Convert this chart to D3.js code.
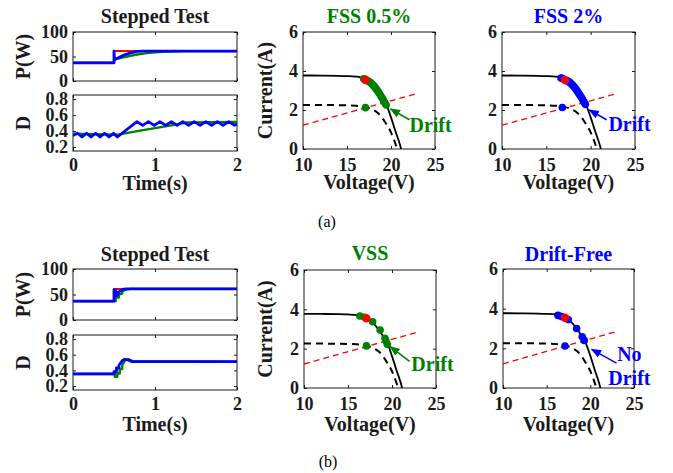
<!DOCTYPE html>
<html>
<head>
<meta charset="utf-8">
<script src="https://cdn.jsdelivr.net/npm/d3@7"></script>
<style>
  html, body { margin: 0; padding: 0; background: #fff; }
  svg { display: block; }
  text { font-family: "Liberation Serif", "Times New Roman", serif; }
</style>
</head>
<body>
<script>
// ---- tick values ----
const timeTicks = [0, 1, 2];
const powerTicks = [0, 50, 100];
const dutyTicks = [0.2, 0.4, 0.6, 0.8];
const voltageTicks = [10, 15, 20, 25];
const currentTicks = [0, 2, 4, 6];

// ---- (a) stepped test, fixed step size: [time s, value] ----
const fssPowerRed = [[0, 37], [0.5, 37], [0.5, 61], [2, 61]];
const fssPowerGreen = [[0, 37], [0.5, 37], [0.5, 43], [0.55, 46], [0.6, 48], [0.7, 51.5], [0.8, 54.5],
  [0.9, 56.8], [1.0, 58.4], [1.1, 59.5], [1.2, 60.3], [1.35, 61], [2, 61]];
const fssPowerBlue = [[0, 37], [0.5, 37], [0.5, 61], [0.505, 43.5], [0.56, 48], [0.62, 53], [0.7, 57.5],
  [0.78, 60.5], [0.85, 61], [2, 61]];
const fssDutyGreen = [[0, 0.366], [0.55, 0.354], [0.8, 0.401], [1.0, 0.436], [1.2, 0.471], [1.38, 0.506], [2, 0.512]];
const fssDutyBlue = [[0, 0.343], [0.055, 0.372], [0.11, 0.325], [0.165, 0.372], [0.22, 0.325], [0.275, 0.372],
  [0.33, 0.325], [0.385, 0.372], [0.44, 0.325], [0.495, 0.372], [0.54, 0.325], [0.78, 0.517], [0.85, 0.471],
  [0.92, 0.517], [0.99, 0.471], [1.06, 0.517], [1.13, 0.471], [1.2, 0.517], [1.27, 0.471], [1.34, 0.517],
  [1.41, 0.471], [1.48, 0.517], [1.55, 0.471], [1.62, 0.517], [1.69, 0.471], [1.76, 0.517], [1.83, 0.471],
  [1.9, 0.517], [1.97, 0.471], [2, 0.488]];

// ---- (b) stepped test, variable / drift-free step size ----
const vssPowerRed = [[0, 37], [0.5, 37], [0.5, 61], [2, 61]];
const vssPowerGreen = [[0, 37], [0.52, 37], [0.52, 44], [0.56, 44], [0.56, 50], [0.6, 52], [0.6, 56],
  [0.65, 60], [0.7, 61], [2, 61]];
const vssPowerBlue = [[0, 37], [0.5, 37], [0.5, 59], [0.52, 59], [0.52, 46], [0.55, 50], [0.55, 55],
  [0.58, 57], [0.6, 60], [0.65, 61], [2, 61]];
const vssDutyGreen = [[0, 0.354], [0.51, 0.354], [0.51, 0.319], [0.54, 0.319], [0.54, 0.36], [0.57, 0.36],
  [0.57, 0.418], [0.6, 0.418], [0.6, 0.465], [0.64, 0.535], [0.68, 0.541], [0.73, 0.517], [2, 0.511]];
const vssDutyBlue = [[0, 0.354], [0.5, 0.354], [0.5, 0.383], [0.53, 0.383], [0.53, 0.43], [0.56, 0.43],
  [0.56, 0.465], [0.6, 0.523], [0.63, 0.541], [0.68, 0.529], [0.72, 0.511], [2, 0.511]];

// ---- I-V characteristics: [voltage V, current A] ----
const ivHigh = [[10, 3.77], [12, 3.765], [14, 3.755], [15, 3.74], [16, 3.71], [16.5, 3.67], [17, 3.58],
  [17.5, 3.45], [18, 3.24], [18.5, 2.96], [19, 2.62], [19.5, 2.24], [20, 1.62], [20.5, 0.92], [21, 0.25], [21.15, 0]];
const ivLow = [[10, 2.26], [14, 2.25], [16, 2.22], [17, 2.16], [17.5, 2.1], [18, 2.0], [18.5, 1.85],
  [19, 1.6], [19.5, 1.25], [20, 0.85], [20.4, 0.4], [20.7, 0]];
const loadLine = [[10, 1.22], [23, 2.85]];
const mppPoint = [[17.1, 3.54]];

const fss05Dots = [[16.9, 3.6], [17.05, 3.57], [17.2, 3.54], [17.35, 3.5], [17.5, 3.46], [17.65, 3.41],
  [17.8, 3.35], [17.95, 3.28], [18.1, 3.21], [18.25, 3.12], [18.4, 3.03], [18.55, 2.93], [18.7, 2.83],
  [18.85, 2.72], [19.0, 2.61], [19.15, 2.49], [19.3, 2.37], [19.45, 2.26], [17.1, 2.12]];
const fss2Dots = [[16.65, 3.64], [16.8, 3.62], [17.3, 3.51], [17.45, 3.47], [17.6, 3.43], [17.75, 3.37],
  [17.9, 3.31], [18.05, 3.23], [18.2, 3.15], [18.35, 3.06], [18.5, 2.96], [18.65, 2.86], [18.8, 2.76],
  [18.95, 2.65], [19.1, 2.53], [19.25, 2.41], [19.4, 2.29], [16.8, 2.13]];
const vssDots = [[16.35, 3.66], [16.9, 3.6], [17.8, 3.37], [18.65, 2.95], [19.2, 2.53], [19.3, 2.4],
  [19.46, 2.22], [17.1, 2.14]];
const driftFreeDots = [[16.3, 3.66], [16.7, 3.6], [17.47, 3.45], [18.43, 3.0], [19.07, 2.58], [19.3, 2.4],
  [17.1, 2.12]];

// ---- colours and fonts ----
const RED = "#ff0000", GREEN = "#008000", BLUE = "#0000ff", INK = "#1a1a1a";
const TITLE_FS = 20, LABEL_FS = 20, TICK_FS = 18;

const svg = d3.select("body").append("svg").attr("width", 673).attr("height", 473);

// Axes frame with inward ticks on all four sides (MATLAB "box on" look)
function frame(box, xDom, yDom, xTicks, yTicks, showX, yFmt, xPad) {
  const x = d3.scaleLinear().domain(xDom).range([box.x0, box.x1]);
  const y = d3.scaleLinear().domain(yDom).range([box.y1, box.y0]);
  const g = svg.append("g");
  const axes = [
    [d3.axisBottom(x).tickValues(xTicks).tickFormat(showX ? d3.format("d") : () => ""), `translate(0,${box.y1})`, xPad],
    [d3.axisTop(x).tickValues(xTicks).tickFormat(() => ""), `translate(0,${box.y0})`, 5],
    [d3.axisLeft(y).tickValues(yTicks).tickFormat(yFmt), `translate(${box.x0},0)`, 5],
    [d3.axisRight(y).tickValues(yTicks).tickFormat(() => ""), `translate(${box.x1},0)`, 5]
  ];
  axes.forEach(([ax, tr, pad]) => {
    const a = g.append("g").attr("transform", tr)
      .call(ax.tickSizeInner(-3).tickSizeOuter(0).tickPadding(pad));
    a.select(".domain").remove();
    a.selectAll("line").attr("stroke", INK).attr("stroke-width", 1);
    a.selectAll("text").attr("fill", INK).attr("font-size", TICK_FS).attr("font-weight", "bold")
      .style("font-family", '"Liberation Serif", "Times New Roman", serif');
  });
  g.append("rect").attr("x", box.x0).attr("y", box.y0)
    .attr("width", box.x1 - box.x0).attr("height", box.y1 - box.y0)
    .attr("fill", "none").attr("stroke", INK).attr("stroke-width", 1);
  return { x, y, g };
}

function addText(x, y, str, opts = {}) {
  const t = svg.append("text").attr("x", x).attr("y", y).text(str)
    .attr("font-size", opts.size || LABEL_FS)
    .attr("font-weight", opts.weight || "bold")
    .attr("fill", opts.color || INK)
    .attr("text-anchor", opts.anchor || "middle");
  if (opts.rotate) t.attr("transform", `rotate(-90,${x},${y})`);
  return t;
}

function drawLine(ax, data, color, width, dash, curve) {
  const clipId = "c" + Math.random().toString(36).slice(2);
  const r = ax.x.range(), d = ax.y.range();
  svg.append("clipPath").attr("id", clipId).append("rect")
    .attr("x", r[0]).attr("y", d[1]).attr("width", r[1] - r[0]).attr("height", d[0] - d[1]);
  const line = d3.line().x(p => ax.x(p[0])).y(p => ax.y(p[1])).curve(curve || d3.curveLinear);
  svg.append("path").datum(data).attr("d", line).attr("fill", "none")
    .attr("stroke", color).attr("stroke-width", width)
    .attr("stroke-dasharray", dash || null)
    .attr("stroke-linejoin", "round")
    .attr("clip-path", `url(#${clipId})`);
}

function drawDots(ax, data, color, r) {
  svg.append("g").selectAll("circle").data(data).join("circle")
    .attr("cx", p => ax.x(p[0])).attr("cy", p => ax.y(p[1])).attr("r", r).attr("fill", color);
}

// arrowhead markers
const defs = svg.append("defs");
[["ah-green", GREEN], ["ah-blue", BLUE]].forEach(([id, c]) => {
  defs.append("marker").attr("id", id).attr("viewBox", "0 0 10 10").attr("refX", 9).attr("refY", 5)
    .attr("markerWidth", 7).attr("markerHeight", 7).attr("orient", "auto-start-reverse")
    .append("path").attr("d", "M0,1 L10,5 L0,9 Z").attr("fill", c);
});

function arrow(ax, from, to, color, id) {
  svg.append("line")
    .attr("x1", ax.x(from[0])).attr("y1", ax.y(from[1]))
    .attr("x2", ax.x(to[0])).attr("y2", ax.y(to[1]))
    .attr("stroke", color).attr("stroke-width", 1.5)
    .attr("marker-end", `url(#${id})`);
}

// Time-domain pair (power on top, duty cycle below)
function steppedTest(rowTop, boxes, pRed, pGreen, pBlue, dGreen, dBlue, labelBase) {
  addText((boxes.p.x0 + boxes.p.x1) / 2, rowTop, "Stepped Test", { size: TITLE_FS });
  const p = frame(boxes.p, [0, 2], [0, 100], timeTicks, powerTicks, false, d3.format("d"), 5);
  drawLine(p, pRed, RED, 2);
  drawLine(p, pGreen, GREEN, 2.4);
  drawLine(p, pBlue, BLUE, 2.8);
  const d = frame(boxes.d, [0, 2], [0.15, 0.85], timeTicks, dutyTicks, true, d3.format(".1f"), 7);
  drawLine(d, dGreen, GREEN, 2.4);
  drawLine(d, dBlue, BLUE, 2.8);
  addText(30, (boxes.p.y0 + boxes.p.y1) / 2, "P(W)", { rotate: true });
  addText(30, (boxes.d.y0 + boxes.d.y1) / 2, "D", { rotate: true });
  addText((boxes.d.x0 + boxes.d.x1) / 2, labelBase, "Time(s)");
}

// I-V plane with tracked operating points
function ivPanel(box, title, color, dots, showYLabel, titleBase, labelBase) {
  addText((box.x0 + box.x1) / 2, titleBase, title, { size: TITLE_FS, color });
  const ax = frame(box, [10, 25], [0, 6], voltageTicks, currentTicks, true, d3.format("d"), 9);
  drawLine(ax, loadLine, RED, 1.3, "6,4");
  drawLine(ax, ivLow, "#000", 2, "7,5", d3.curveMonotoneX);
  drawLine(ax, ivHigh, "#000", 1.8, null, d3.curveMonotoneX);
  drawDots(ax, dots, color, 3.8);
  drawDots(ax, mppPoint, RED, 4.2);
  if (showYLabel) addText(272, (box.y0 + box.y1) / 2, "Current(A)", { rotate: true });
  addText((box.x0 + box.x1) / 2, labelBase, "Voltage(V)");
  return ax;
}

// ---- row (a) ----
steppedTest(23, { p: { x0: 73, x1: 237, y0: 32, y1: 81 }, d: { x0: 73, x1: 237, y0: 95, y1: 151 } },
  fssPowerRed, fssPowerGreen, fssPowerBlue, fssDutyGreen, fssDutyBlue, 190);

const a1 = ivPanel({ x0: 303, x1: 435, y0: 32, y1: 149 }, "FSS 0.5%", GREEN, fss05Dots, true, 23, 189);
arrow(a1, [22.1, 1.5], [19.95, 2.05], GREEN, "ah-green");
addText(a1.x(22.1), a1.y(0.87), "Drift", { color: GREEN, anchor: "start" });

const a2 = ivPanel({ x0: 502, x1: 635, y0: 32, y1: 149 }, "FSS 2%", BLUE, fss2Dots, false, 23, 189);
arrow(a2, [21.8, 1.5], [19.85, 2.0], BLUE, "ah-blue");
addText(a2.x(22.0), a2.y(0.9), "Drift", { color: BLUE, anchor: "start" });

addText(327, 227, "(a)", { size: 16, weight: "normal", color: "#000" });

// ---- row (b) ----
steppedTest(261, { p: { x0: 73, x1: 237, y0: 269, y1: 320 }, d: { x0: 73, x1: 237, y0: 335, y1: 390 } },
  vssPowerRed, vssPowerGreen, vssPowerBlue, vssDutyGreen, vssDutyBlue, 431);

const b1 = ivPanel({ x0: 304, x1: 436, y0: 270, y1: 388 }, "VSS", GREEN, vssDots, true, 260, 431);
arrow(b1, [22.0, 1.35], [19.8, 2.1], GREEN, "ah-green");
addText(b1.x(22.2), b1.y(0.84), "Drift", { color: GREEN, anchor: "start" });

const b2 = ivPanel({ x0: 503, x1: 634, y0: 269, y1: 388 }, "Drift-Free", BLUE, driftFreeDots, false, 261, 431);
arrow(b2, [23.0, 1.25], [20.15, 1.95], BLUE, "ah-blue");
addText(b2.x(24.47), b2.y(1.36), "No", { color: BLUE });
addText(b2.x(24.47), b2.y(0.15), "Drift", { color: BLUE });

addText(328, 467, "(b)", { size: 16, weight: "normal", color: "#000" });
</script>
</body>
</html>
